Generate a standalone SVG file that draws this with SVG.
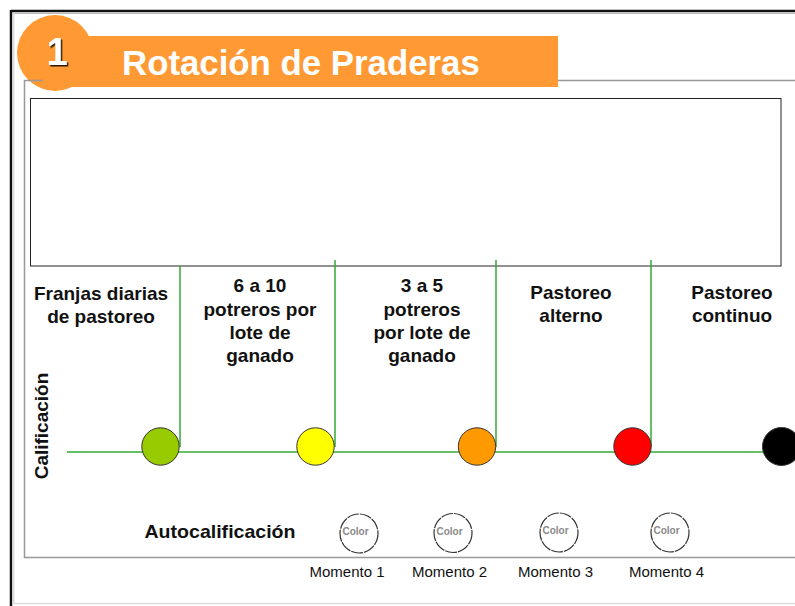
<svg xmlns="http://www.w3.org/2000/svg" width="795" height="606" viewBox="0 0 795 606">
  <defs>
    <filter id="shadow" x="-30%" y="-30%" width="160%" height="160%">
      <feDropShadow dx="1.5" dy="1.5" stdDeviation="0.6" flood-color="#000" flood-opacity="0.85"/>
    </filter>
    <style>
      .frame { fill: none; stroke: #999; stroke-width: 1.5; }
      .lbl { font-family: "Liberation Sans", Arial, sans-serif; font-weight: bold; font-size: 19px; fill: #111; text-anchor: middle; }
      .dot { stroke: #333; stroke-width: 1; }
      .conn { stroke: #33aa33; stroke-width: 1.5; fill: none; }
      .self { fill: #fff; stroke: #333; stroke-width: 1.2; stroke-dasharray: 12 1; }
      .ctext { font-family: "Liberation Sans", Arial, sans-serif; font-weight: bold; font-size: 10px; fill: #8a8a8a; text-anchor: middle; }
      .mom { font-family: "Liberation Sans", Arial, sans-serif; font-size: 15px; fill: #111; text-anchor: middle; }
    </style>
  </defs>

  <rect x="0" y="0" width="795" height="606" fill="#fff"/>

  <!-- outer page frame -->
  <g id="page-frame">
    <line x1="11" y1="11" x2="795" y2="11" stroke="#111" stroke-width="2.5"/>
    <line x1="11" y1="10" x2="11" y2="606" stroke="#111" stroke-width="2.5"/>
    <line x1="13" y1="13.5" x2="795" y2="13.5" stroke="#bbb" stroke-width="1"/>
    <line x1="13.5" y1="13" x2="13.5" y2="603" stroke="#ddd" stroke-width="2"/>
    <line x1="12" y1="603.5" x2="795" y2="603.5" stroke="#ddd" stroke-width="1.5"/>
  </g>

  <!-- header -->
  <g id="header">
    <rect x="55" y="36" width="503" height="51" fill="#ff9933"/>
    <circle cx="55" cy="53" r="38" fill="#ff9933"/>
    <text x="57" y="65" font-family="Liberation Sans, Arial, sans-serif" font-weight="bold" font-size="38" fill="#fff" text-anchor="middle" filter="url(#shadow)">1</text>
    <text x="122" y="75" font-family="Liberation Sans, Arial, sans-serif" font-weight="bold" font-size="34.8" fill="#fff">Rotación de Praderas</text>
  </g>

  <!-- inner content frame -->
  <g id="content-frame">
    <polyline class="frame" points="43,80.5 24.5,80.5 24.5,557.5 795,557.5"/>
    <line class="frame" x1="558" y1="80.5" x2="795" y2="80.5"/>
  </g>

  <!-- empty box -->
  <g id="box">
    <rect x="30.5" y="98.5" width="750.5" height="167.5" fill="none" stroke="#222" stroke-width="1"/>
  </g>

  <!-- connectors -->
  <g id="connectors">
    <line class="conn" x1="67" y1="452" x2="781" y2="452"/>
    <line class="conn" x1="180" y1="266" x2="180" y2="447"/>
    <line class="conn" x1="335" y1="260" x2="335" y2="447"/>
    <line class="conn" x1="496" y1="260" x2="496" y2="447"/>
    <line class="conn" x1="651" y1="260" x2="651" y2="447"/>
  </g>

  <!-- axis label -->
  <g id="axis-label">
    <text class="lbl" transform="translate(47.5,426) rotate(-90)" x="0" y="0">Calificación</text>
  </g>

  <!-- stages -->
  <g id="stage-franjas">
    <circle class="dot" cx="160.5" cy="446.5" r="18.7" fill="#99cc00"/>
    <text class="lbl" x="101" y="300">Franjas diarias</text>
    <text class="lbl" x="101" y="323">de pastoreo</text>
  </g>
  <g id="stage-6a10">
    <circle class="dot" cx="315.5" cy="446.5" r="18.7" fill="#ffff00"/>
    <text class="lbl" x="260" y="292">6 a 10</text>
    <text class="lbl" x="260" y="315.5">potreros por</text>
    <text class="lbl" x="260" y="339">lote de</text>
    <text class="lbl" x="260" y="362">ganado</text>
  </g>
  <g id="stage-3a5">
    <circle class="dot" cx="477" cy="446.5" r="18.7" fill="#ff9900"/>
    <text class="lbl" x="422" y="292">3 a 5</text>
    <text class="lbl" x="422" y="315.5">potreros</text>
    <text class="lbl" x="422" y="339">por lote de</text>
    <text class="lbl" x="422" y="362">ganado</text>
  </g>
  <g id="stage-alterno">
    <circle class="dot" cx="632.5" cy="446.5" r="18.7" fill="#ff0000"/>
    <text class="lbl" x="571" y="299">Pastoreo</text>
    <text class="lbl" x="571" y="322">alterno</text>
  </g>
  <g id="stage-continuo">
    <circle class="dot" cx="781.5" cy="446.5" r="19" fill="#000"/>
    <text class="lbl" x="732" y="299">Pastoreo</text>
    <text class="lbl" x="732" y="322">continuo</text>
  </g>

  <!-- self-rating -->
  <g id="autocalificacion">
    <text class="lbl" x="220" y="537.5" font-size="18" textLength="151" lengthAdjust="spacingAndGlyphs">Autocalificación</text>
  </g>
  <g id="momento-1">
    <ellipse class="self" cx="359" cy="533.5" rx="19" ry="19.5"/>
    <text class="ctext" x="355.5" y="535">Color</text>
    <text class="mom" x="347" y="577">Momento 1</text>
  </g>
  <g id="momento-2">
    <ellipse class="self" cx="453" cy="533" rx="19" ry="19.5"/>
    <text class="ctext" x="449.5" y="534.5">Color</text>
    <text class="mom" x="449.5" y="577">Momento 2</text>
  </g>
  <g id="momento-3">
    <ellipse class="self" cx="559" cy="532.5" rx="19" ry="19.5"/>
    <text class="ctext" x="555.5" y="534">Color</text>
    <text class="mom" x="555.5" y="577">Momento 3</text>
  </g>
  <g id="momento-4">
    <ellipse class="self" cx="670" cy="532.5" rx="19" ry="19.5"/>
    <text class="ctext" x="666.5" y="534">Color</text>
    <text class="mom" x="666.5" y="577">Momento 4</text>
  </g>
</svg>
